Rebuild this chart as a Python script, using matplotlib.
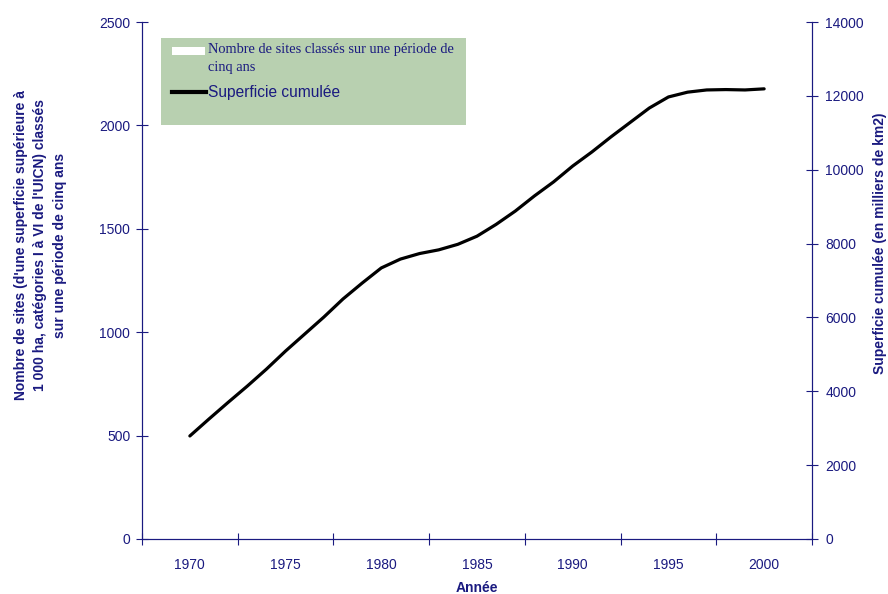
import matplotlib.pyplot as plt
from matplotlib.patches import Rectangle
from matplotlib.lines import Line2D

# Categories on the x axis (one per five-year period)
periods = ['1970', '1975', '1980', '1985', '1990', '1995', '2000']

# Cumulated area, yearly values (thousands of km2)
years = list(range(1970, 2001))
area = [2790, 3250, 3700, 4140, 4600, 5090, 5550, 6010, 6500, 6930,
        7340, 7580, 7730, 7830, 7980, 8200, 8520, 8880, 9290, 9670,
        10100, 10480, 10890, 11280, 11670, 11970, 12100, 12160, 12170, 12160,
        12190]

legend_labels = ['Nombre de sites classés sur une période de\ncinq ans', 'Superficie cumulée']

navy = '#1a1a80'
W, H = 888, 594
plt.rcParams['font.family'] = ['Liberation Sans', 'DejaVu Sans']

fig = plt.figure(figsize=(W / 100, H / 100), dpi=100)
ax = fig.add_axes([142/W, 1 - 539/H, 670/W, 517/H])
ax2 = ax.twinx()

# position of each year on the category axis
xpos = [(y - 1970) / 5 for y in years]
ax2.plot(xpos, area, color='black', lw=2.3, solid_capstyle='round', solid_joinstyle='round')

ax.set_xlim(-0.5, len(periods) - 0.5)
ax.set_ylim(0, 2500)
ax.set_yticks(range(0, 2501, 500))
ax2.set_ylim(0, 14000)
ax2.set_yticks(range(0, 14001, 2000))

ax.set_xticks([i - 0.5 for i in range(len(periods) + 1)])
ax.set_xticklabels([])
ax.set_xticks(range(len(periods)), minor=True)
ax.set_xticklabels(periods, minor=True)
ax.tick_params(axis='x', which='minor', length=0, pad=14, labelsize=10, labelcolor=navy)
ax.tick_params(axis='x', which='major', direction='inout', length=9, color=navy)

for a in (ax, ax2):
    for s in a.spines.values():
        s.set_color(navy)
    a.spines['top'].set_visible(False)
ax.tick_params(axis='y', direction='inout', length=9, color=navy, labelsize=10, labelcolor=navy, pad=4)
ax2.tick_params(axis='y', direction='inout', length=9, color=navy, labelsize=10, labelcolor=navy, pad=5)

ax.set_ylabel("Nombre de sites (d'une superficie supérieure à\n1 000 ha, catégories I à VI de l'UICN) classés\nsur une période de cinq ans",
              fontsize=10, fontweight='bold', color=navy, linespacing=1.5, va='center')
ax.yaxis.set_label_coords((40 - 142) / 670, (539 - 245) / 517)
ax2.set_ylabel('Superficie cumulée (en milliers de km2)', fontsize=10, fontweight='bold',
               color=navy, va='center')
ax2.yaxis.set_label_coords((880 - 142) / 670, (539 - 243) / 517)
ax.set_xlabel('Année', fontsize=10, fontweight='bold', color=navy, labelpad=6)

# legend box drawn in figure pixels
def fx(px):
    return px / W

def fy(py):
    return 1 - py / H

fig.patches.append(Rectangle((fx(161), fy(125)), fx(466) - fx(161), fy(38) - fy(125),
                             transform=fig.transFigure, facecolor='#b8d0b0', edgecolor='none', zorder=5))
fig.patches.append(Rectangle((fx(172), fy(55)), fx(205) - fx(172), fy(47) - fy(55),
                             transform=fig.transFigure, facecolor='white', edgecolor='none', zorder=6))
fig.lines.append(Line2D([fx(172), fx(206)], [fy(92), fy(92)], transform=fig.transFigure,
                        color='black', lw=3, zorder=6))
fig.text(fx(208), fy(43), legend_labels[0], family='Liberation Serif', fontsize=10.4,
         color=navy, va='top', ha='left', linespacing=1.5, zorder=7)
fig.text(fx(208), fy(92), legend_labels[1], fontsize=11.2, color=navy,
         va='center', ha='left', zorder=7)

fig.savefig('out.png', dpi=100)
